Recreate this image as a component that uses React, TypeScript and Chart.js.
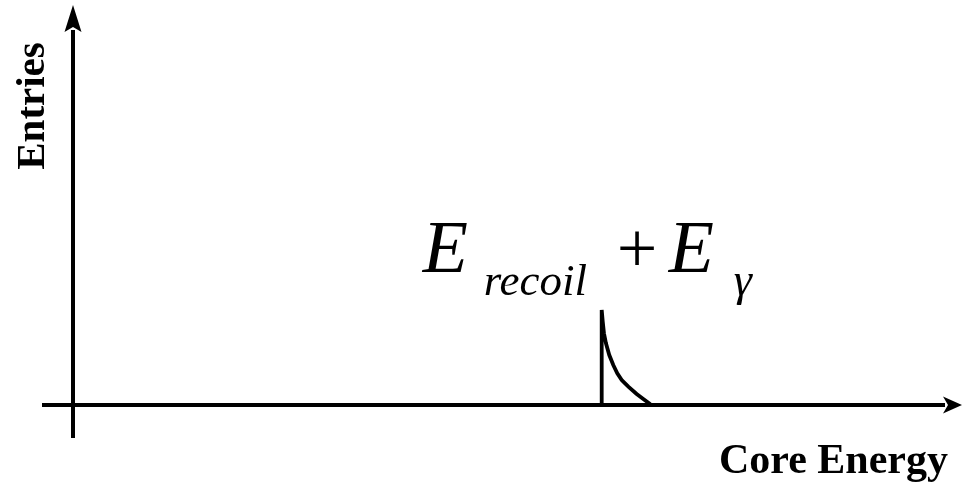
import React, { useEffect, useRef } from "react";
import { Chart, registerables } from "chart.js";

Chart.register(...registerables);

// Spectrum shape: sharp edge at the full-energy peak with a tail toward higher core energy.
const energies = [
  60.77, 60.77, 60.89, 61.03, 61.26, 61.64, 62.1, 62.56, 63.07, 63.83, 64.79, 65.55, 66.21, 66.44,
];
const entries = [
  0, 25.47, 22.33, 19.22, 16.54, 13.4, 10.72, 8.5, 6.7, 4.91, 2.95, 1.61, 0.46, 0,
];

const xAxisTitle = "Core Energy";
const yAxisTitle = "Entries";
const peakMain = "E";
const peakSub1 = "recoil";
const peakPlus = "+";
const peakSub2 = "γ";

const SERIF = '"Liberation Serif", "Times New Roman", Times, serif';

const axesAndLabels = {
  id: "axesAndLabels",
  afterDraw(chart: Chart) {
    const { ctx } = chart;
    const xs = chart.scales.x;
    const ys = chart.scales.y;
    const x0 = xs.getPixelForValue(0);
    const y0 = ys.getPixelForValue(0);
    const area = chart.chartArea;

    ctx.save();
    ctx.strokeStyle = "#000";
    ctx.fillStyle = "#000";
    ctx.lineWidth = 4;
    ctx.lineCap = "butt";

    // vertical axis
    ctx.beginPath();
    ctx.moveTo(x0, y0 + 33);
    ctx.lineTo(x0, area.top - 2);
    ctx.stroke();
    // vertical arrow head
    ctx.beginPath();
    ctx.moveTo(x0, area.top - 27);
    ctx.lineTo(x0 + 8.5, area.top);
    ctx.lineTo(x0, area.top - 5);
    ctx.lineTo(x0 - 8.5, area.top);
    ctx.closePath();
    ctx.fill();

    // horizontal axis
    ctx.beginPath();
    ctx.moveTo(x0 - 31, y0);
    ctx.lineTo(area.right + 2, y0);
    ctx.stroke();
    // horizontal arrow head
    ctx.beginPath();
    ctx.moveTo(area.right + 19, y0);
    ctx.lineTo(area.right, y0 - 8.5);
    ctx.lineTo(area.right + 5, y0);
    ctx.lineTo(area.right, y0 + 8.5);
    ctx.closePath();
    ctx.fill();

    // axis titles
    ctx.font = `bold 42px ${SERIF}`;
    ctx.textAlign = "right";
    ctx.textBaseline = "alphabetic";
    ctx.fillText(xAxisTitle, area.right + 5, y0 + 68);

    ctx.save();
    ctx.translate(x0 - 29.5, (area.top + 74));
    ctx.rotate(-Math.PI / 2);
    ctx.font = `bold 41px ${SERIF}`;
    ctx.textAlign = "center";
    ctx.fillText(yAxisTitle, 0, 0);
    ctx.restore();

    // peak annotation, placed relative to the peak edge
    const px = xs.getPixelForValue(energies[1]);
    const py = ys.getPixelForValue(entries[1]);
    const base = py - 38;
    const subBase = base + 23;
    ctx.textAlign = "left";
    ctx.font = `italic 74px ${SERIF}`;
    ctx.fillText(peakMain, px - 179, base);
    ctx.font = `italic 45px ${SERIF}`;
    ctx.fillText(peakSub1, px - 118, subBase);
    ctx.font = `72px ${SERIF}`;
    ctx.fillText(peakPlus, px + 15, base);
    ctx.font = `italic 74px ${SERIF}`;
    ctx.fillText(peakMain, px + 67, base);
    ctx.font = `italic 46px ${SERIF}`;
    ctx.fillText(peakSub2, px + 132, subBase);

    ctx.restore();
  },
};

export default function App() {
  const canvasRef = useRef<HTMLCanvasElement | null>(null);

  useEffect(() => {
    const canvas = canvasRef.current;
    if (!canvas) return;
    const chart = new Chart(canvas, {
      type: "scatter",
      data: {
        datasets: [
          {
            data: energies.map((e, i) => ({ x: e, y: entries[i] })),
            showLine: true,
            borderColor: "#000",
            borderWidth: 3.8,
            pointRadius: 0,
            tension: 0,
            clip: false as any,
            borderJoinStyle: "miter",
          },
        ],
      },
      options: {
        animation: false,
        responsive: false,
        devicePixelRatio: 1,
        layout: { padding: { left: 73, right: 21, top: 32, bottom: 77 } },
        plugins: { legend: { display: false }, tooltip: { enabled: false } },
        scales: {
          x: { type: "linear", min: 0, max: 100, display: false },
          y: { type: "linear", min: 0, max: 100, display: false },
        },
      },
      plugins: [axesAndLabels],
    });
    return () => chart.destroy();
  }, []);

  return (
    <div style={{ position: "absolute", left: 0, top: 0, width: 964, height: 482, background: "#fff" }}>
      <canvas ref={canvasRef} width={964} height={482} />
    </div>
  );
}
